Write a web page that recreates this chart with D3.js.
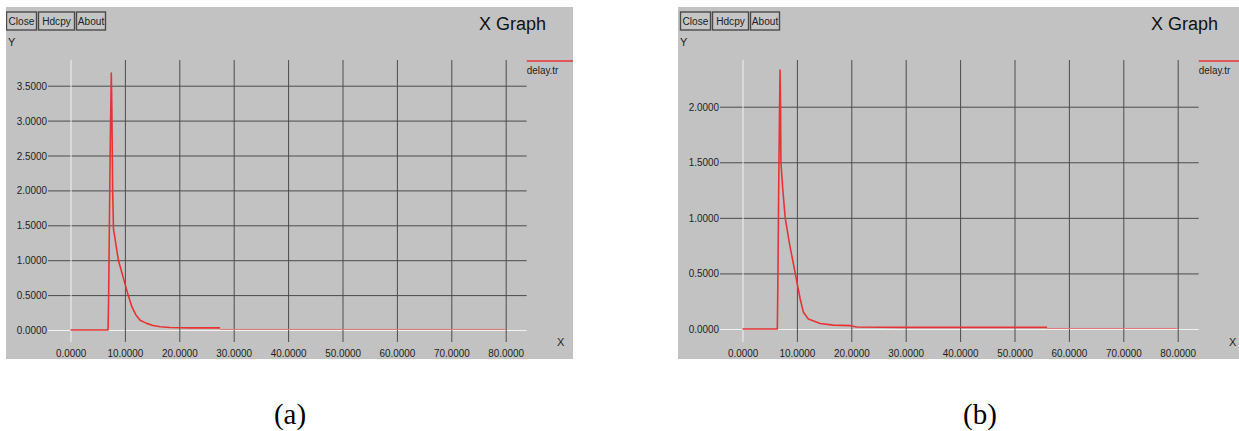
<!DOCTYPE html>
<html>
<head>
<meta charset="utf-8">
<script src="https://cdn.jsdelivr.net/npm/d3@7"></script>
<style>
  body { margin: 0; background: #ffffff; }
  svg text { font-family: "Liberation Sans", Arial, sans-serif; }
  svg text.caption { font-family: "Liberation Serif", "Times New Roman", serif; }
</style>
</head>
<body>
<svg id="fig" width="1239" height="431"></svg>
<script>
// ---- data ----------------------------------------------------------------
const xTicks = [0, 10, 20, 30, 40, 50, 60, 70, 80];
const yTicksA = [0, 0.5, 1, 1.5, 2, 2.5, 3, 3.5];
const yTicksB = [0, 0.5, 1, 1.5, 2];
const buttonLabels = ["Close", "Hdcpy", "About"];
const seriesName = "delay.tr";

// trace (a): simulation time vs. delay
const timeA  = [0, 6.9, 7.0, 7.3, 7.5, 7.6, 7.75, 7.9, 8.2, 8.8, 9.7, 10.6, 11.3, 12.0, 12.8, 14.0, 15.2, 16.5, 18.3, 22.0, 27.5];
const delayA = [0, 0, 0.4, 2.6, 3.68, 3.2, 2.0, 1.45, 1.3, 1.0, 0.75, 0.5, 0.33, 0.22, 0.14, 0.095, 0.065, 0.047, 0.035, 0.03, 0.03];
const tailTimeA  = [27.5, 80];
const tailDelayA = [0.008, 0.008];

// trace (b)
const timeB  = [0, 6.4, 6.5, 6.7, 6.9, 7.0, 7.06, 7.4, 7.85, 8.7, 9.7, 10.6, 11.2, 12.1, 14.3, 16.7, 19.8, 21.0, 30.0, 56.0];
const delayB = [0, 0, 0.4, 1.5, 2.33, 2.0, 1.5, 1.26, 1.0, 0.75, 0.5, 0.27, 0.15, 0.09, 0.05, 0.035, 0.03, 0.018, 0.015, 0.015];
const tailTimeB  = [56, 80];
const tailDelayB = [0.005, 0.005];

// ---- drawing ---------------------------------------------------------------
const svg = d3.select("#fig");
const defs = svg.append("defs");
const fmt = d3.format(".4f");

const W = 567, H = 352;            // window size
const gridTop = 53, gridBottom = 335;
const gridLeft = 42, gridRight = 520.7;
const bg = "#c2c2c2", gridColor = "#4c4c4c", axisColor = "#f2f2f2", red = "#e63434";

function squeeze(sel) {
  sel.attr("transform", "scale(0.9,1)");
}

function drawPanel(cfg) {
  const clipId = "clip-" + cfg.id;
  defs.append("clipPath").attr("id", clipId)
    .append("rect").attr("width", W).attr("height", H);

  const g = svg.append("g")
    .attr("transform", `translate(${cfg.left},${cfg.top})`)
    .attr("clip-path", `url(#${clipId})`);

  g.append("rect").attr("width", W).attr("height", H).attr("fill", bg);

  // buttons
  let bx = cfg.btnLeft;
  const widths = [30, 36, 29];
  buttonLabels.forEach((label, i) => {
    const b = g.append("g").attr("transform", `translate(${bx},${5})`);
    b.append("rect").attr("width", widths[i]).attr("height", 18)
      .attr("fill", "#c6c6c6").attr("stroke", "#4a4a4a").attr("stroke-width", 1.4);
    b.append("text").attr("x", widths[i] / 2).attr("y", 13.5)
      .attr("text-anchor", "middle").attr("font-size", 11.5).attr("fill", "#222")
      .attr("transform", `translate(${widths[i] / 2 * 0.12},0) scale(0.88,1)`)
      .text(label);
    bx += widths[i] + 2;
  });

  // title
  g.append("text").attr("x", 540).attr("y", 23).attr("text-anchor", "end")
    .attr("font-size", 18).attr("fill", "#111").text("X Graph");

  // axis names
  g.append("text").attr("x", 2).attr("y", 39).attr("font-size", 11).attr("fill", "#222").text("Y");
  g.append("text").attr("x", 551).attr("y", 339).attr("font-size", 11).attr("fill", "#222").text("X");

  const x = d3.scaleLinear().domain([0, 80]).range([64.5, 499.7]);
  const y = d3.scaleLinear().domain([0, cfg.yRef]).range([cfg.y0, cfg.yRefPx]);

  // horizontal grid + y labels
  const yAxis = g.append("g").attr("transform", `translate(${gridLeft},0)`)
    .call(d3.axisLeft(y).tickValues(cfg.yTicks).tickFormat(fmt)
      .tickSize(-(gridRight - gridLeft)).tickPadding(1));
  yAxis.select(".domain").remove();
  yAxis.selectAll(".tick line")
    .attr("stroke", d => d === 0 ? axisColor : gridColor).attr("stroke-width", 1);
  yAxis.selectAll(".tick text").attr("font-size", 11).attr("fill", "#222").call(squeeze);

  // vertical grid + x labels
  const xAxis = g.append("g").attr("transform", `translate(0,${gridBottom})`)
    .call(d3.axisBottom(x).tickValues(xTicks).tickFormat(fmt)
      .tickSize(-(gridBottom - gridTop)).tickPadding(7));
  xAxis.select(".domain").remove();
  xAxis.selectAll(".tick line")
    .attr("stroke", d => d === 0 ? axisColor : gridColor).attr("stroke-width", 1);
  xAxis.selectAll(".tick text").attr("font-size", 11).attr("fill", "#222").call(squeeze);

  // keep the white zero line on top of the grid
  yAxis.selectAll(".tick").filter(d => d === 0).raise();

  const line = d3.line().x(d => x(d[0])).y(d => y(d[1]));

  g.append("path")
    .datum(d3.zip(cfg.tailTime, cfg.tailDelay))
    .attr("d", line).attr("fill", "none")
    .attr("stroke", "#e07878").attr("stroke-width", 1);

  g.append("path")
    .datum(d3.zip(cfg.time, cfg.delay))
    .attr("d", line).attr("fill", "none")
    .attr("stroke", red).attr("stroke-width", 1.6)
    .attr("stroke-linejoin", "round");

  // legend
  g.append("line").attr("x1", gridRight).attr("x2", W).attr("y1", 54).attr("y2", 54)
    .attr("stroke", red).attr("stroke-width", 1.5);
  g.append("text").attr("x", gridRight / 0.9).attr("y", 67).attr("font-size", 11)
    .attr("fill", "#222").call(squeeze).text(seriesName);

  // caption
  svg.append("text").attr("class", "caption")
    .attr("x", cfg.captionX).attr("y", 424).attr("text-anchor", "middle")
    .attr("font-size", 29).attr("fill", "#000").text(cfg.caption);
}

drawPanel({
  id: "a", left: 6, top: 7, btnLeft: 0.5,
  yTicks: yTicksA, yRef: 3.5, y0: 323, yRefPx: 78.7,
  time: timeA, delay: delayA, tailTime: tailTimeA, tailDelay: tailDelayA,
  caption: "(a)", captionX: 290
});

drawPanel({
  id: "b", left: 678, top: 7, btnLeft: 2.5,
  yTicks: yTicksB, yRef: 2, y0: 322, yRefPx: 99.7,
  time: timeB, delay: delayB, tailTime: tailTimeB, tailDelay: tailDelayB,
  caption: "(b)", captionX: 980
});
</script>
</body>
</html>
